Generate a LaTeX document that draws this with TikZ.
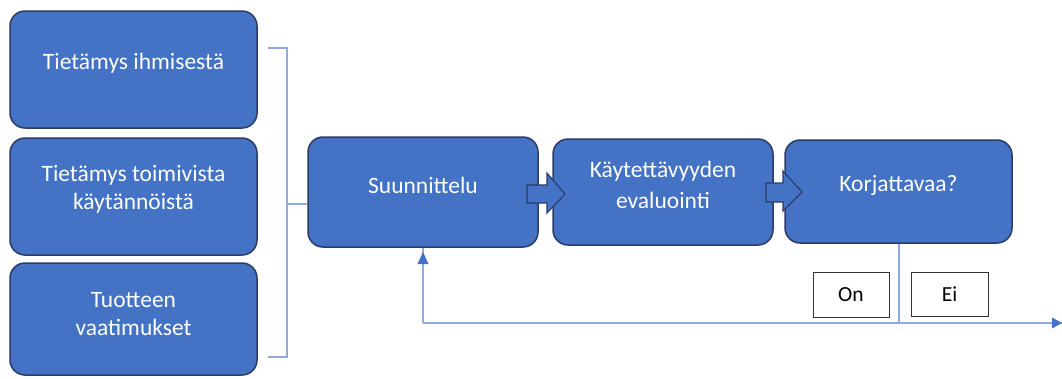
\documentclass[tikz,border=0pt]{standalone}
\usepackage{fontspec}
\setmainfont{Carlito}
\usetikzlibrary{arrows.meta}
\definecolor{boxfill}{HTML}{4472C4}
\definecolor{boxline}{HTML}{2A3B66}
\definecolor{conn}{HTML}{8FAADC}
\definecolor{arr}{HTML}{4472C4}
\tikzset{
  box/.style={draw=boxline, line width=1.5pt, fill=boxfill, rounded corners=15pt, inner sep=0pt},
  txt/.style={text=white, font=\fontsize{23.5}{28}\selectfont, align=center, inner sep=0pt},
  lbl/.style={draw=black!80, line width=0.8pt, fill=white, font=\fontsize{21.5}{24}\selectfont, inner sep=0pt},
  conn/.style={draw=conn, line width=1.1pt},
  blockarrow/.style={draw=boxline, line width=1.1pt, fill=boxfill, line join=miter}
}
\begin{document}
\begin{tikzpicture}[x=1pt,y=-1pt]
\useasboundingbox (0,0) rectangle (1062,378);
% left boxes
\node[box, minimum width=247pt, minimum height=117pt] (b1) at (133.5,69.5) {};
\node[txt] (t1) at (133.5,63) {Tietämys ihmisestä};
\node[box, minimum width=247pt, minimum height=117pt] (b2) at (133.5,196.5) {};
\node[txt] (t2) at (133.5,189) {Tietämys toimivista\\käytännöistä};
\node[box, minimum width=247pt, minimum height=112pt] (b3) at (133.5,319) {};
\node[txt] (t3) at (133.5,314) {Tuotteen\\vaatimukset};
% process boxes
\node[box, minimum width=230pt, minimum height=110pt] (s) at (423,192) {};
\node[txt] (ts) at (423,185) {Suunnittelu};
\node[box, minimum width=220pt, minimum height=106pt] (k) at (663,192) {};
\node[txt, font=\fontsize{23.5}{31}\selectfont] (tk) at (663,185) {Käytettävyyden\\evaluointi};
\node[box, minimum width=227pt, minimum height=103pt] (q) at (898.5,191.5) {};
\node[txt] (tq) at (898.5,185) {Korjattavaa?};
% brace
\coordinate (bt) at (268,48);
\coordinate (bb) at (268,357);
\draw[conn] (bt) -- (287,48) -- (287,357) -- (bb);
\draw[conn] (287,204) -- (s.west |- 0,204);
% block arrows
\draw[blockarrow] (527,185) -- (547,185) -- (547,173) -- (565,194) -- (547,213) -- (547,203) -- (527,203) -- cycle;
\draw[blockarrow] (766,183) -- (783,183) -- (783,171) -- (802,192) -- (783,211) -- (783,202) -- (766,202) -- cycle;
% feedback
\coordinate (fb) at (423,323);
\coordinate (fe) at (1062,323);
\draw[conn] (q.south -| 899,0) -- (899,323);
\draw[conn] (fb) -- (fe);
\draw[conn] (fb) -- (s.south -| 423,0) ++(0,6);
\fill[arr] (423,252) -- (417.5,264) -- (428.5,264) -- cycle;
\fill[arr] (1062,323) -- (1052,317.5) -- (1052,328.5) -- cycle;
% labels
\node[lbl, minimum width=76pt, minimum height=45pt] (on) at (851,294.5) {On};
\node[lbl, minimum width=77pt, minimum height=44pt] (ei) at (949.5,294) {Ei};
\end{tikzpicture}
\end{document}
